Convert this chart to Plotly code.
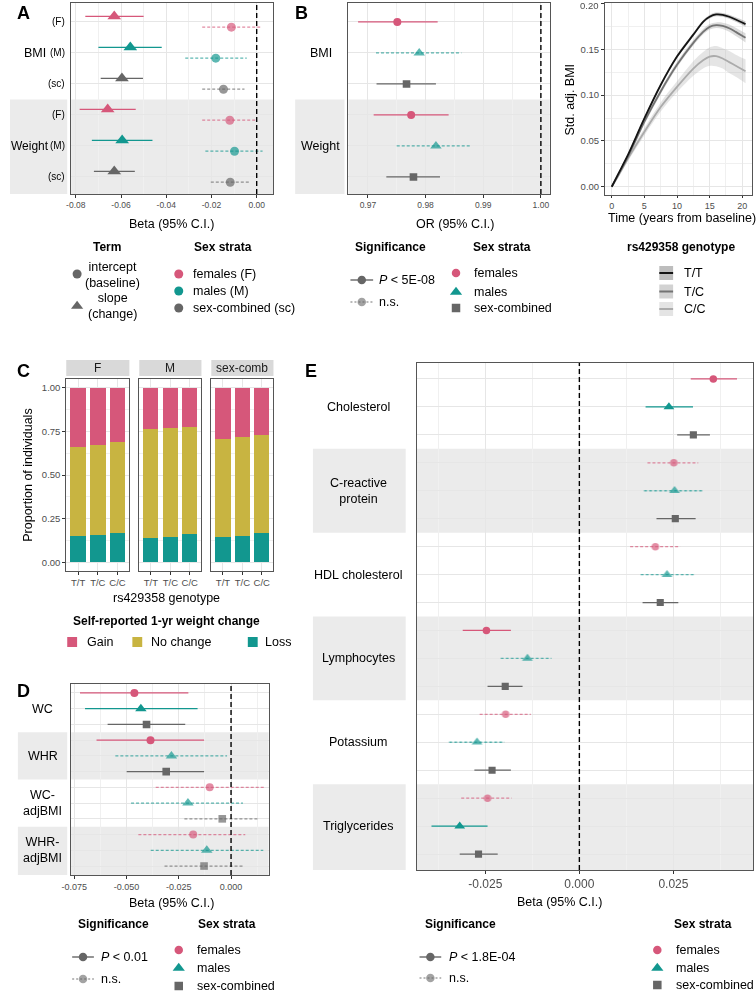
import plotly.graph_objects as go

W, H = 756, 994
def fx(p): return p / W
def fy(p): return 1 - p / H

PINK = "#D6577A"
TEAL = "#12978F"
GREY = "#666666"
YEL = "#C8B441"
SEX_COL = {"F": PINK, "M": TEAL, "sc": GREY}
SEX_SYM = {"F": "circle", "M": "triangle-up", "sc": "square"}
FONT = "Arial, Liberation Sans, Helvetica, sans-serif"
TICKC = "#4D4D4D"
GRIDC = "#E6E6E6"
MINC = "#F0F0F0"
BANDC = "#EBEBEB"

# ---------------- Panel A data ----------------
A_traits = ["BMI", "Weight"]
A_strata = ["F", "M", "sc", "F", "M", "sc"]
A_strata_lab = ["(F)", "(M)", "(sc)", "(F)", "(M)", "(sc)"]
A_slope_est = [-0.0630, -0.0559, -0.0596, -0.0659, -0.0595, -0.0630]
A_slope_lo = [-0.0758, -0.0700, -0.0690, -0.0783, -0.0729, -0.0720]
A_slope_hi = [-0.0500, -0.0420, -0.0503, -0.0535, -0.0461, -0.0539]
A_slope_sig = [True, True, True, True, True, True]
A_int_est = [-0.0112, -0.0181, -0.0147, -0.0119, -0.0098, -0.0117]
A_int_lo = [-0.0241, -0.0316, -0.0241, -0.0241, -0.0227, -0.0203]
A_int_hi = [0.0017, -0.0044, -0.0054, -0.0003, 0.0026, -0.0029]
A_int_sig = [False, False, False, False, False, False]

# ---------------- Panel B data ----------------
B_traits = ["BMI", "Weight"]
B_strata = ["F", "M", "sc", "F", "M", "sc"]
B_est = [0.9751, 0.9789, 0.9767, 0.9775, 0.9818, 0.9779]
B_lo = [0.9683, 0.9714, 0.9715, 0.9710, 0.9750, 0.9732]
B_hi = [0.9821, 0.9862, 0.9818, 0.9840, 0.9879, 0.9825]
B_sig = [True, False, True, True, False, True]

# ---------------- Trajectory panel data ----------------
R_time = [0, 1, 2.5, 5, 7.5, 10, 12.5, 14, 15, 16, 17, 18, 19, 20.5]
R_genotypes = ["T/T", "T/C", "C/C"]
R_TT = [0, 0.014, 0.035, 0.0745, 0.111, 0.142, 0.166, 0.180, 0.1855, 0.188, 0.1876, 0.1855, 0.1825, 0.1775]
R_TC = [0, 0.013, 0.033, 0.071, 0.104, 0.133, 0.157, 0.169, 0.1745, 0.1763, 0.1755, 0.173, 0.169, 0.1625]
R_CC = [0, 0.012, 0.031, 0.060, 0.087, 0.109, 0.129, 0.138, 0.142, 0.1425, 0.140, 0.136, 0.132, 0.126]
R_TT_hw = [0, 0.001, 0.0015, 0.002, 0.002, 0.002, 0.002, 0.002, 0.002, 0.002, 0.002, 0.0022, 0.0025, 0.003]
R_TC_hw = [0, 0.001, 0.002, 0.003, 0.003, 0.003, 0.003, 0.003, 0.003, 0.003, 0.0035, 0.004, 0.0045, 0.005]
R_CC_hw = [0, 0.002, 0.003, 0.004, 0.005, 0.006, 0.008, 0.009, 0.010, 0.011, 0.011, 0.012, 0.012, 0.013]
R_yticks = [0, 0.05, 0.10, 0.15, 0.20]
R_yticklabels = ["0.00", "0.05", "0.10", "0.15", "0.20"]

# ---------------- Panel C data ----------------
C_panels = ["F", "M", "sex-comb"]
C_genotypes = ["T/T", "T/C", "C/C"]
C_categories = ["Gain", "No change", "Loss"]
C_loss = [[0.150, 0.159, 0.167], [0.139, 0.145, 0.160], [0.143, 0.153, 0.167]]
C_nochange = [[0.509, 0.512, 0.523], [0.624, 0.622, 0.616], [0.562, 0.562, 0.561]]
C_gain = [[0.341, 0.329, 0.310], [0.237, 0.233, 0.224], [0.295, 0.285, 0.272]]

# ---------------- Panel D data ----------------
D_traits = ["WC", "WHR", "WC-<br>adjBMI", "WHR-<br>adjBMI"]
D_strata = ["F", "M", "sc"] * 4
D_est = [-0.0462, -0.0431, -0.0404, -0.0385, -0.0285, -0.0310, -0.0102, -0.0206, -0.0042, -0.0181, -0.0116, -0.0129]
D_lo = [-0.0722, -0.0698, -0.0590, -0.0643, -0.0553, -0.0499, -0.0360, -0.0478, -0.0223, -0.0443, -0.0384, -0.0318]
D_hi = [-0.0204, -0.0160, -0.0219, -0.0129, -0.0019, -0.0129, 0.0157, 0.0057, 0.0134, 0.0068, 0.0154, 0.0060]
D_sig = [True, True, True, True, False, True, False, False, False, False, False, False]

# ---------------- Panel E data ----------------
E_traits = ["Cholesterol", "C-reactive<br>protein", "HDL cholesterol", "Lymphocytes", "Potassium", "Triglycerides"]
E_strata = ["F", "M", "sc"] * 6
E_est = [0.0356, 0.0238, 0.0303, 0.0251, 0.0253, 0.0255, 0.0202, 0.0233, 0.0215,
         -0.0247, -0.0138, -0.0197, -0.0196, -0.0272, -0.0232, -0.0244, -0.0318, -0.0268]
E_lo = [0.0296, 0.0176, 0.0260, 0.0181, 0.0172, 0.0205, 0.0135, 0.0163, 0.0168,
        -0.0310, -0.0209, -0.0244, -0.0265, -0.0346, -0.0279, -0.0314, -0.0393, -0.0318]
E_hi = [0.0419, 0.0302, 0.0347, 0.0316, 0.0327, 0.0309, 0.0268, 0.0309, 0.0263,
        -0.0182, -0.0074, -0.0151, -0.0129, -0.0199, -0.0182, -0.0180, -0.0244, -0.0217]
E_sig = [True, True, True, False, False, True, False, False, True,
         True, False, True, False, False, True, False, True, True]

fig = go.Figure()
shapes = []
anns = []


def ann(text, x, y, size=12.5, bold=False, xanchor="center", color="black", angle=0,
        xref="paper", yref="paper"):
    if bold:
        text = "<b>" + text + "</b>"
    anns.append(dict(text=text, x=fx(x) if xref == "paper" else x,
                     y=fy(y) if yref == "paper" else y, xref=xref, yref=yref,
                     xanchor=xanchor, yanchor="middle", showarrow=False, textangle=angle,
                     font=dict(size=size, color=color, family=FONT)))


def add_forest(xa, ya, ys, est, lo, hi, sexes, sigs, symbols, msize):
    combos = {}
    for i in range(len(ys)):
        combos.setdefault((sexes[i], sigs[i], symbols[i]), []).append(i)
    for (sex, sig, sym), idx in combos.items():
        col = SEX_COL[sex]
        op = 1.0 if sig else 0.68
        lx, ly = [], []
        for i in idx:
            lx += [lo[i], hi[i], None]
            ly += [ys[i], ys[i], None]
        fig.add_trace(go.Scatter(x=lx, y=ly, mode="lines", xaxis=xa, yaxis=ya,
                                 line=dict(color=col, width=1.3, dash="solid" if sig else "3px,2px"),
                                 opacity=op, showlegend=False, hoverinfo="skip"))
        sz = msize * 1.25 if sym == "triangle-up" else (msize * 0.95 if sym == "square" else msize)
        fig.add_trace(go.Scatter(x=[est[i] for i in idx], y=[ys[i] for i in idx], mode="markers",
                                 xaxis=xa, yaxis=ya, opacity=op, showlegend=False,
                                 marker=dict(symbol=sym, size=sz, color=col, line=dict(width=0))))


def xaxis_cfg(l, r, rng, tv, tt, minor, anchor, fsize=8.5, show=True, ticklen=3):
    return dict(domain=[fx(l), fx(r)], range=rng, anchor=anchor, tickvals=tv, ticktext=tt,
                ticks="outside" if show else "", ticklen=ticklen, tickcolor="#333333", tickwidth=1,
                showticklabels=show, tickfont=dict(size=fsize, color=TICKC, family=FONT),
                showgrid=True, gridcolor=GRIDC, gridwidth=1,
                minor=dict(tickvals=minor, showgrid=True, gridcolor=MINC, gridwidth=0.6, ticks=""),
                showline=True, mirror=True, linecolor="#555555", linewidth=1, zeroline=False)


def yaxis_cfg(top, bot, rng, tv, anchor, tt=None, minor=None, fsize=8.5, show=False):
    d = dict(domain=[fy(bot), fy(top)], range=rng, anchor=anchor, tickvals=tv,
             showticklabels=show, ticks="outside" if show else "", ticklen=3, tickcolor="#333333",
             tickfont=dict(size=fsize, color=TICKC, family=FONT),
             showgrid=True, gridcolor=GRIDC, gridwidth=1,
             showline=True, mirror=True, linecolor="#555555", linewidth=1, zeroline=False)
    if tt is not None:
        d["ticktext"] = tt
    if minor is not None:
        d["minor"] = dict(tickvals=minor, showgrid=True, gridcolor=MINC, gridwidth=0.6, ticks="")
    return d


def band(xaxis_name, yref, y0, y1, strip_l, strip_r):
    shapes.append(dict(type="rect", xref=xaxis_name + " domain", yref=yref, x0=0, x1=1, y0=y0, y1=y1,
                       fillcolor=BANDC, line=dict(width=0), layer="below"))
    shapes.append(dict(type="rect", xref="paper", yref=yref, x0=fx(strip_l), x1=fx(strip_r), y0=y0, y1=y1,
                       fillcolor=BANDC, line=dict(width=0), layer="below"))


def vdash(xaxis_name, yaxis_name, xv):
    shapes.append(dict(type="line", xref=xaxis_name, yref=yaxis_name + " domain", x0=xv, x1=xv, y0=0, y1=1,
                       line=dict(color="black", width=1.4, dash="5px,3px"), layer="above"))


# ================= Panel A =================
rowsA = list(range(6))
band("x", "y", 2.5, 5.55, 0, 58)
add_forest("x", "y", [r - 0.18 for r in rowsA], A_slope_est, A_slope_lo, A_slope_hi,
           A_strata, A_slope_sig, ["triangle-up"] * 6, 9.5)
add_forest("x", "y", [r + 0.17 for r in rowsA], A_int_est, A_int_lo, A_int_hi,
           A_strata, A_int_sig, ["circle"] * 6, 9)
vdash("x", "y", 0)
for i, lab in enumerate(A_strata_lab):
    ann(lab, 58, i, size=10, xanchor="right", yref="y")
ann(A_traits[0], 25, 1, size=12.5, yref="y")
ann(A_traits[1], 20, 4, size=12, yref="y")

# ================= Panel B =================
rowsB = list(range(6))
band("x2", "y2", 2.5, 5.55, 289, 339)
add_forest("x2", "y2", rowsB, B_est, B_lo, B_hi, B_strata, B_sig,
           [SEX_SYM[s] for s in B_strata], 8)
vdash("x2", "y2", 1.0)
ann(B_traits[0], 315, 1, yref="y2")
ann(B_traits[1], 315, 4, yref="y2")

# ================= Trajectory panel =================
R_vals = [R_TT, R_TC, R_CC]
R_hw = [R_TT_hw, R_TC_hw, R_CC_hw]
R_line_col = ["#141414", "#737373", "#ABABAB"]
R_rib_col = ["rgba(110,110,110,0.35)", "rgba(140,140,140,0.30)", "rgba(170,170,170,0.30)"]
for k in [2, 1, 0]:
    up = [v + h for v, h in zip(R_vals[k], R_hw[k])]
    lo = [v - h for v, h in zip(R_vals[k], R_hw[k])]
    fig.add_trace(go.Scatter(x=R_time, y=up, mode="lines", xaxis="x3", yaxis="y3",
                             line=dict(width=0, shape="spline"), showlegend=False, hoverinfo="skip"))
    fig.add_trace(go.Scatter(x=R_time, y=lo, mode="lines", xaxis="x3", yaxis="y3", fill="tonexty",
                             fillcolor=R_rib_col[k], line=dict(width=0, shape="spline"),
                             showlegend=False, hoverinfo="skip"))
for k in [2, 1, 0]:
    fig.add_trace(go.Scatter(x=R_time, y=R_vals[k], mode="lines", xaxis="x3", yaxis="y3",
                             line=dict(color=R_line_col[k], width=1.8, shape="spline", smoothing=0.8),
                             showlegend=False))
# top tick label sits at the very top edge of the page; place it as a y3-referenced text
anns.append(dict(text=R_yticklabels[-1], x=fx(599), xref="paper", y=R_yticks[-1], yref="y3",
                 xanchor="right", yanchor="middle", yshift=-2, showarrow=False,
                 font=dict(size=9.5, color=TICKC, family=FONT)))

# ================= Panel C =================
C_cols = {"Gain": PINK, "No change": YEL, "Loss": TEAL}
C_data = {"Gain": C_gain, "No change": C_nochange, "Loss": C_loss}
C_x = [(57, 121), (131, 194), (204, 267)]
for p in range(3):
    xa = "x%d" % (4 + p)
    ya = "y%d" % (4 + p)
    for cat in ["Loss", "No change", "Gain"]:
        fig.add_trace(go.Bar(x=C_genotypes, y=C_data[cat][p], xaxis=xa, yaxis=ya,
                             marker=dict(color=C_cols[cat], line=dict(width=0)), width=0.78,
                             showlegend=False))
    l, r = C_x[p]
    shapes.append(dict(type="rect", xref="paper", yref="paper", x0=fx(l), x1=fx(r), y0=fy(376), y1=fy(360),
                       fillcolor="#D9D9D9", line=dict(width=0)))
    ann(C_panels[p], (l + r) / 2, 368, size=12, color="#1A1A1A")

# ================= Panel D =================
rowsD = list(range(12))
band("x7", "y7", 2.5, 5.5, 8, 58)
band("x7", "y7", 8.5, 11.57, 8, 58)
add_forest("x7", "y7", rowsD, D_est, D_lo, D_hi, D_strata, D_sig,
           [SEX_SYM[s] for s in D_strata], 8)
vdash("x7", "y7", 0)
for i, lab in enumerate(D_traits):
    ann(lab, 33, 3 * i + 1, yref="y7")

# ================= Panel E =================
rowsE = list(range(18))
band("x8", "y8", 2.5, 5.5, 307, 401)
band("x8", "y8", 8.5, 11.5, 307, 401)
band("x8", "y8", 14.5, 17.57, 307, 401)
add_forest("x8", "y8", rowsE, E_est, E_lo, E_hi, E_strata, E_sig,
           [SEX_SYM[s] for s in E_strata], 7.5)
vdash("x8", "y8", 0)
for i, lab in enumerate(E_traits):
    ann(lab, 353, 3 * i + 1, yref="y8")

# ================= Legend glyphs (pixel overlay axis) =================
def glyph(x, y, sym, col, size, op=1.0):
    sz = size * 1.25 if sym == "triangle-up" else size
    fig.add_trace(go.Scatter(x=[x], y=[y], mode="markers", xaxis="x9", yaxis="y9", opacity=op,
                             marker=dict(symbol=sym, size=sz, color=col, line=dict(width=0)),
                             showlegend=False, hoverinfo="skip"))


def sig_glyph(x0, x1, y, sig):
    op = 1.0 if sig else 0.6
    fig.add_trace(go.Scatter(x=[x0, x1], y=[y, y], mode="lines", xaxis="x9", yaxis="y9", opacity=op,
                             line=dict(color=GREY, width=1.4, dash="solid" if sig else "2px,2px"),
                             showlegend=False, hoverinfo="skip"))
    glyph((x0 + x1) / 2, y, "circle", GREY, 8.5, op)


# Panel A legends
ann("Term", 98, 247, size=12, bold=True)
ann("Sex strata", 216, 247, size=12, bold=True)
glyph(68, 274, "circle", GREY, 9)
glyph(68, 306, "triangle-up", GREY, 8.5)
ann("intercept<br>(baseline)", 104, 274.5)
ann("slope<br>(change)", 104, 306)
for yy, s, t in [(274, "F", "females (F)"), (291, "M", "males (M)"), (308, "sc", "sex-combined (sc)")]:
    glyph(171, yy, "circle", SEX_COL[s], 9)
    ann(t, 183, yy, xanchor="left")

# Panel B legends
ann("Significance", 386, 247, size=12, bold=True)
ann("Sex strata", 467, 247, size=12, bold=True, xanchor="left")
sig_glyph(345, 368, 280, True)
sig_glyph(345, 368, 302, False)
ann("<i>P</i> &lt; 5E-08", 372, 280, xanchor="left")
ann("n.s.", 372, 302, xanchor="left")
for yy, s, t in [(273, "F", "females"), (292, "M", "males"), (308, "sc", "sex-combined")]:
    glyph(452, yy, SEX_SYM[s], SEX_COL[s], 8.5)
    ann(t, 468, yy, xanchor="left")

# Trajectory legend
ann("rs429358 genotype", 680, 247, size=12, bold=True)
R_key_fill = ["#BDBDBD", "#D2D2D2", "#E4E4E4"]
for k, yy in enumerate([273, 291.5, 309]):
    shapes.append(dict(type="rect", xref="x9", yref="y9", x0=658, x1=672, y0=yy - 7, y1=yy + 7,
                       fillcolor=R_key_fill[k], line=dict(width=0)))
    shapes.append(dict(type="line", xref="x9", yref="y9", x0=658, x1=672, y0=yy, y1=yy,
                       line=dict(color=R_line_col[k], width=2)))
    ann(R_genotypes[k], 681, yy, xanchor="left")

# Panel C legend
ann("Self-reported 1-yr weight change", 159, 621, size=12, bold=True)
for (xx, tx), cat in zip([(63, 76), (129, 141), (246, 256)], C_categories):
    shapes.append(dict(type="rect", xref="x9", yref="y9", x0=xx - 5, x1=xx + 5, y0=637, y1=647,
                       fillcolor=C_cols[cat], line=dict(width=0)))
    ann(cat, tx, 642, xanchor="left")

# Panel D legend
ann("Significance", 105, 924, size=12, bold=True)
ann("Sex strata", 220, 924, size=12, bold=True)
sig_glyph(63, 85, 957, True)
sig_glyph(63, 85, 979, False)
ann("<i>P</i> &lt; 0.01", 90, 957, xanchor="left")
ann("n.s.", 90, 979, xanchor="left")
for yy, s, t in [(950, "F", "females"), (968, "M", "males"), (986, "sc", "sex-combined")]:
    glyph(171, yy, SEX_SYM[s], SEX_COL[s], 8.5)
    ann(t, 187, yy, xanchor="left")

# Panel E legend
ann("Significance", 457, 924, size=12, bold=True)
ann("Sex strata", 702, 924, size=12, bold=True)
sig_glyph(415, 437, 957, True)
sig_glyph(415, 437, 978, False)
ann("<i>P</i> &lt; 1.8E-04", 443, 957, xanchor="left")
ann("n.s.", 443, 978, xanchor="left")
for yy, s, t in [(950, "F", "females"), (968, "M", "males"), (985, "sc", "sex-combined")]:
    glyph(656, yy, SEX_SYM[s], SEX_COL[s], 8.5)
    ann(t, 673, yy, xanchor="left")

# Axis titles
ann("Beta (95% C.I.)", 164, 224)
ann("OR (95% C.I.)", 451, 224)
ann("Time (years from baseline)", 681, 218)
ann("Std. adj. BMI", 567, 100, angle=-90)
ann("rs429358 genotype", 159, 598)
ann("Proportion of individuals", 18, 475, angle=-90)
ann("Beta (95% C.I.)", 164, 903)
ann("Beta (95% C.I.)", 557, 902)

# Panel letters
for t, x, y in [("A", 14, 13), ("B", 295, 13), ("C", 14, 371), ("D", 14, 691), ("E", 305, 371)]:
    ann(t, x, y, size=18, bold=True)

# ================= Layout =================
layout = dict(
    width=W, height=H, margin=dict(l=0, r=0, t=0, b=0), autosize=False,
    paper_bgcolor="white", plot_bgcolor="rgba(0,0,0,0)",
    showlegend=False, barmode="stack", font=dict(family=FONT),
    shapes=shapes, annotations=anns,
)
layout["xaxis"] = xaxis_cfg(62, 267, [-0.08205, 0.00742], [-0.08, -0.06, -0.04, -0.02, 0],
                            ["-0.08", "-0.06", "-0.04", "-0.02", "0.00"], [-0.07, -0.05, -0.03, -0.01], "y")
layout["yaxis"] = yaxis_cfg(3, 194, [5.55, -0.61], rowsA, "x")
layout["xaxis2"] = xaxis_cfg(343, 547, [0.96663, 1.00154], [0.97, 0.98, 0.99, 1.0],
                             ["0.97", "0.98", "0.99", "1.00"], [0.975, 0.985, 0.995], "y2")
layout["yaxis2"] = yaxis_cfg(3, 194, [5.55, -0.61], rowsB, "x2")
layout["xaxis3"] = xaxis_cfg(603, 752, [-1.03, 21.5], [0, 5, 10, 15, 20],
                             ["0", "5", "10", "15", "20"], [2.5, 7.5, 12.5, 17.5], "y3", fsize=9,
                             ticklen=2)
layout["yaxis3"] = yaxis_cfg(3, 195, [-0.009, 0.2005], R_yticks, "x3",
                             tt=R_yticklabels[:-1] + [""],
                             minor=[0.025, 0.075, 0.125, 0.175], fsize=9.5, show=True)
for p in range(3):
    l, r = C_x[p]
    ax = xaxis_cfg(l, r, [-0.6, 2.6], C_genotypes, C_genotypes, [], "y%d" % (4 + p), fsize=9.5)
    ax["type"] = "category"
    ax["categoryorder"] = "array"
    ax["categoryarray"] = C_genotypes
    ax.pop("minor")
    layout["xaxis%d" % (4 + p)] = ax
    layout["yaxis%d" % (4 + p)] = yaxis_cfg(379, 571, [-0.05, 1.05], [0, 0.25, 0.5, 0.75, 1.0],
                                            "x%d" % (4 + p),
                                            tt=["0.00", "0.25", "0.50", "0.75", "1.00"],
                                            minor=[0.125, 0.375, 0.625, 0.875], fsize=9.5,
                                            show=(p == 0))
layout["xaxis7"] = xaxis_cfg(62, 262, [-0.07642, 0.01792], [-0.075, -0.05, -0.025, 0],
                             ["-0.075", "-0.050", "-0.025", "0.000"],
                             [-0.0625, -0.0375, -0.0125, 0.0125], "y7", fsize=9)
layout["yaxis7"] = yaxis_cfg(684, 875, [11.57, -0.57], rowsD, "x7")
layout["xaxis8"] = xaxis_cfg(412, 753, [-0.04327, 0.04616], [-0.025, 0, 0.025],
                             ["-0.025", "0.000", "0.025"], [-0.0375, -0.0125, 0.0125, 0.0375], "y8",
                             fsize=12)
layout["yaxis8"] = yaxis_cfg(363, 870, [17.57, -0.57], rowsE, "x8")
layout["xaxis9"] = dict(domain=[0, 1], range=[0, W], anchor="y9", visible=False, fixedrange=True)
layout["yaxis9"] = dict(domain=[0, 1], range=[H, 0], anchor="x9", visible=False, fixedrange=True)

fig.update_layout(**layout)
fig.write_html("out.html", config={"displayModeBar": False},
               post_script="document.body.style.margin='0px';document.body.style.overflow='hidden';")
